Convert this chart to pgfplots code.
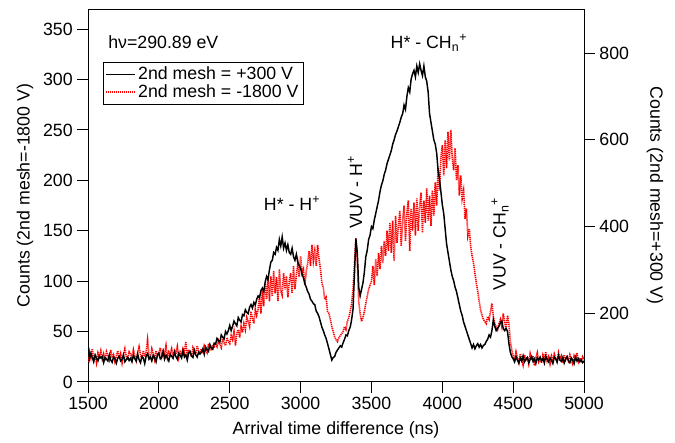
\documentclass[border=0pt]{standalone}
\usepackage{pgfplots}
\pgfplotsset{compat=1.18}
\usepackage{fontspec}
\setmainfont{Liberation Sans}
\begin{document}
\begin{tikzpicture}
\pgfplotsset{
  every axis/.append style={
    scale only axis, width=371.8pt, height=279.6pt,
    xmin=1500, xmax=5000,
    font=\fontsize{13.3}{15}\selectfont,
    /pgf/number format/assume math mode=true,
    /pgf/number format/1000 sep={},
    tick align=outside, major tick length=8pt,
    every tick/.style={black, line width=0.75pt},
    axis line style={line width=0.75pt},
    tick label style={font=\fontsize{13.3}{15}\selectfont},
  }
}
\begin{axis}[
  name=ax,
  ymin=0, ymax=370,
  xtick={1500,2000,...,5000},
  ytick={0,50,...,350},
  xtick pos=lower, ytick pos=left,
  xlabel={Arrival time difference (ns)},
  ylabel={Counts (2nd mesh=-1800 V)},
  xlabel style={at={(axis description cs:0.5,-0.129)}, anchor=center},
  ylabel style={at={(axis description cs:-0.127,0.5)}, anchor=center},
  legend style={at={(0.030,0.858)}, anchor=north west, draw=black, line width=0.75pt,
    font=\fontsize{13.3}{15}\selectfont, inner sep=1.5pt, row sep=-2pt},
  legend cell align=left,
  legend image code/.code={\draw[#1] (0cm,0cm) -- (0.75cm,0cm);},
]
\addlegendimage{black, line width=1pt}
\addlegendentry{2nd mesh = +300 V}
\addplot[red, dash pattern=on 0.9pt off 0.6pt, line width=1.2pt] coordinates {
(1500,20)(1510,30)(1520,24)(1530,33)(1540,22)(1550,27)(1560,19)(1570,29)(1580,25)(1590,31)
(1600,23)(1610,28)(1620,21)(1630,30)(1640,26)(1650,22)(1660,32)(1670,24)(1680,27)(1690,20)
(1700,26)(1710,31)(1720,23)(1730,28)(1740,19)(1750,27)(1760,33)(1770,25)(1780,22)(1790,30)
(1800,28)(1810,24)(1820,32)(1830,26)(1840,21)(1850,29)(1860,35)(1870,27)(1880,23)(1890,31)
(1900,25)(1910,30)(1920,42)(1930,27)(1940,24)(1950,33)(1960,28)(1970,22)(1980,31)(1990,26)
(2000,29)(2010,34)(2020,25)(2030,31)(2040,27)(2050,36)(2060,24)(2070,30)(2080,28)(2090,33)
(2100,26)(2110,31)(2120,28)(2130,35)(2140,24)(2150,30)(2160,27)(2170,33)(2180,29)(2190,40)
(2200,27)(2210,32)(2220,29)(2230,25)(2240,34)(2250,30)(2260,28)(2270,36)(2280,31)(2290,29)
(2300,33)(2310,30)(2320,36)(2330,32)(2340,29)(2350,38)(2360,34)(2370,31)(2380,37)(2390,35)
(2400,38)(2410,35)(2420,41)(2430,37)(2440,34)(2450,43)(2460,39)(2470,36)(2480,44)(2490,40)
(2500,38)(2510,46)(2520,42)(2530,50)(2540,36)(2550,48)(2560,52)(2570,44)(2580,55)(2590,49)
(2600,58)(2610,52)(2620,64)(2630,60)(2640,55)(2650,70)(2660,63)(2670,58)(2680,72)(2690,66)
(2700,72)(2710,85)(2720,68)(2730,90)(2740,75)(2750,98)(2760,82)(2770,102)(2780,80)(2790,105)
(2800,85)(2810,110)(2820,88)(2830,104)(2840,80)(2850,112)(2860,90)(2870,86)(2880,108)(2890,92)
(2900,105)(2910,84)(2920,100)(2930,108)(2940,88)(2950,115)(2960,92)(2970,106)(2980,118)(2990,104)
(3000,125)(3010,108)(3020,112)(3030,96)(3040,110)(3050,118)(3060,130)(3070,115)(3080,136)(3090,120)
(3100,130)(3110,115)(3120,136)(3130,122)(3140,112)(3150,98)(3160,94)(3170,82)(3180,84)(3190,70)
(3200,68)(3210,62)(3220,55)(3230,50)(3240,45)(3250,42)(3260,40)(3270,44)(3280,46)(3290,48)
(3300,50)(3310,55)(3320,52)(3330,60)(3340,64)(3350,70)(3360,78)(3370,92)(3380,118)(3390,143)
(3400,120)(3410,80)(3420,68)(3430,60)(3440,64)(3450,70)(3460,78)(3470,85)(3480,92)(3490,96)
(3500,100)(3510,115)(3520,96)(3530,122)(3540,105)(3550,128)(3560,112)(3570,135)(3580,118)(3590,140)
(3600,125)(3610,150)(3620,130)(3630,158)(3640,128)(3650,160)(3660,120)(3670,165)(3680,138)(3690,155)
(3700,170)(3710,135)(3720,160)(3730,175)(3740,140)(3750,168)(3760,180)(3770,130)(3780,172)(3790,150)
(3800,178)(3810,145)(3820,182)(3830,150)(3840,175)(3850,188)(3860,148)(3870,180)(3880,158)(3890,192)
(3900,160)(3910,185)(3920,155)(3930,190)(3940,165)(3950,198)(3960,175)(3970,212)(3980,190)(3990,222)
(4000,235)(4010,205)(4020,240)(4030,212)(4040,248)(4050,220)(4060,250)(4070,222)(4080,210)(4090,232)
(4100,200)(4110,215)(4120,185)(4130,205)(4140,182)(4150,190)(4160,162)(4170,172)(4180,145)(4190,152)
(4200,135)(4210,125)(4220,118)(4230,108)(4240,98)(4250,90)(4260,80)(4270,72)(4280,66)(4290,62)
(4300,60)(4310,58)(4320,65)(4330,62)(4340,70)(4350,78)(4360,65)(4370,58)(4380,55)(4390,52)
(4400,58)(4410,62)(4420,55)(4430,68)(4440,60)(4450,52)(4460,66)(4470,58)(4480,40)(4490,32)
(4500,26)(4510,22)(4520,30)(4530,24)(4540,19)(4550,28)(4560,23)(4570,17)(4580,27)(4590,21)
(4600,25)(4610,18)(4620,28)(4630,22)(4640,26)(4650,16)(4660,24)(4670,29)(4680,20)(4690,23)
(4700,19)(4710,27)(4720,23)(4730,30)(4740,21)(4750,25)(4760,18)(4770,26)(4780,22)(4790,28)
(4800,24)(4810,20)(4820,29)(4830,23)(4840,26)(4850,19)(4860,27)(4870,22)(4880,25)(4890,21)
(4900,27)(4910,22)(4920,18)(4930,26)(4940,23)(4950,29)(4960,20)(4970,24)(4980,21)(4990,25)
(5000,22)
};
\addlegendentry{2nd mesh = -1800 V}
\node[anchor=west] at (axis cs:1610,337) {hν=290.89 eV};
\node at (axis cs:2940,177) {H* - H\textsuperscript{+}};
\node at (axis cs:3906,336) {H* - CH\textsubscript{n}\textsuperscript{+}};
\node[rotate=90] at (axis cs:3384,188) {VUV - H\textsuperscript{+}};
\node[rotate=90] at (axis cs:4407,137) {VUV - CH\textsubscript{n}\textsuperscript{+}};
\end{axis}
\begin{axis}[
  ymin=41.5, ymax=901.5,
  axis x line=none, axis y line*=right,
  ytick={200,400,600,800},
  ylabel={Counts (2nd mesh=+300 V)},
  ylabel style={at={(axis description cs:1.143,0.5)}, anchor=center, rotate=180},
]
\addplot[black, line width=1.1pt] coordinates {
(1500,125)(1510,95)(1520,108)(1530,98)(1540,88)(1550,104)(1560,96)(1570,90)(1580,101)(1590,97)
(1600,100)(1610,86)(1620,98)(1630,94)(1640,90)(1650,104)(1660,92)(1670,87)(1680,99)(1690,95)
(1700,85)(1710,97)(1720,101)(1730,90)(1740,94)(1750,104)(1760,88)(1770,93)(1780,99)(1790,91)
(1800,96)(1810,88)(1820,103)(1830,95)(1840,90)(1850,106)(1860,93)(1870,86)(1880,100)(1890,97)
(1900,84)(1910,101)(1920,107)(1930,94)(1940,99)(1950,90)(1960,103)(1970,97)(1980,88)(1990,104)
(2000,108)(2010,95)(2020,99)(2030,112)(2040,94)(2050,103)(2060,97)(2070,90)(2080,105)(2090,101)
(2100,96)(2110,110)(2120,100)(2130,94)(2140,108)(2150,103)(2160,97)(2170,113)(2180,99)(2190,104)
(2200,92)(2210,108)(2220,112)(2230,101)(2240,98)(2250,115)(2260,104)(2270,99)(2280,110)(2290,106)
(2300,110)(2310,118)(2320,105)(2330,122)(2340,116)(2350,112)(2360,128)(2370,120)(2380,117)(2390,131)
(2400,129)(2410,142)(2420,137)(2430,133)(2440,150)(2450,145)(2460,141)(2470,158)(2480,152)(2490,160)
(2500,172)(2510,160)(2520,170)(2530,182)(2540,176)(2550,171)(2560,190)(2570,184)(2580,180)(2590,197)
(2600,194)(2610,208)(2620,202)(2630,199)(2640,214)(2650,220)(2660,212)(2670,225)(2680,219)(2690,232)
(2700,240)(2710,236)(2720,252)(2730,258)(2740,250)(2750,272)(2760,285)(2770,278)(2780,300)(2790,318)
(2800,322)(2810,340)(2820,336)(2830,352)(2840,345)(2850,370)(2860,355)(2870,376)(2880,350)(2890,362)
(2900,345)(2910,358)(2920,340)(2930,336)(2940,350)(2950,330)(2960,322)(2970,336)(2980,318)(2990,310)
(3000,304)(3010,290)(3020,282)(3030,268)(3040,260)(3050,250)(3060,244)(3070,232)(3080,228)(3090,222)
(3100,220)(3110,205)(3120,200)(3130,192)(3140,180)(3150,168)(3160,160)(3170,150)(3180,142)(3190,130)
(3200,118)(3210,105)(3220,92)(3230,98)(3240,100)(3250,110)(3260,115)(3270,120)(3280,125)(3290,122)
(3300,132)(3310,140)(3320,150)(3330,148)(3340,160)(3350,168)(3360,185)(3370,210)(3380,290)(3390,372)
(3400,340)(3410,260)(3420,240)(3430,255)(3440,270)(3450,295)(3460,330)(3470,345)(3480,370)(3490,380)
(3500,400)(3510,395)(3520,415)(3530,430)(3540,445)(3550,460)(3560,480)(3570,495)(3580,505)(3590,520)
(3600,530)(3610,545)(3620,555)(3630,565)(3640,575)(3650,590)(3660,600)(3670,612)(3680,620)(3690,630)
(3700,640)(3710,652)(3720,660)(3730,680)(3740,670)(3750,700)(3760,720)(3770,710)(3780,740)(3790,752)
(3800,760)(3810,745)(3820,770)(3830,755)(3840,775)(3850,760)(3860,748)(3870,770)(3880,745)(3890,735)
(3900,710)(3910,660)(3920,640)(3930,620)(3940,600)(3950,590)(3960,570)(3970,530)(3980,510)(3990,480)
(4000,450)(4010,430)(4020,395)(4030,360)(4040,340)(4050,320)(4060,300)(4070,285)(4080,275)(4090,260)
(4100,250)(4110,235)(4120,220)(4130,205)(4140,195)(4150,180)(4160,170)(4170,160)(4180,150)(4190,140)
(4200,130)(4210,120)(4220,128)(4230,118)(4240,125)(4250,130)(4260,122)(4270,128)(4280,120)(4290,126)
(4300,128)(4310,135)(4320,140)(4330,150)(4340,145)(4350,160)(4360,185)(4370,170)(4380,160)(4390,165)
(4400,170)(4410,178)(4420,182)(4430,165)(4440,160)(4450,165)(4460,158)(4470,130)(4480,110)(4490,100)
(4500,95)(4510,88)(4520,100)(4530,92)(4540,85)(4550,97)(4560,90)(4570,102)(4580,88)(4590,94)
(4600,98)(4610,86)(4620,93)(4630,100)(4640,89)(4650,95)(4660,84)(4670,97)(4680,92)(4690,99)
(4700,90)(4710,96)(4720,85)(4730,101)(4740,93)(4750,88)(4760,97)(4770,91)(4780,84)(4790,99)
(4800,95)(4810,87)(4820,103)(4830,92)(4840,89)(4850,98)(4860,85)(4870,94)(4880,100)(4890,90)
(4900,86)(4910,97)(4920,92)(4930,84)(4940,99)(4950,90)(4960,95)(4970,88)(4980,93)(4990,86)
(5000,90)
};
\end{axis}
\pgfresetboundingbox
\path (ax.south west) ++(-66pt,-45pt) coordinate (bbA);
\path (ax.north east) ++(68.2pt,6.75pt) coordinate (bbB);
\path[use as bounding box] (bbA) rectangle (bbB);
\end{tikzpicture}
\end{document}
